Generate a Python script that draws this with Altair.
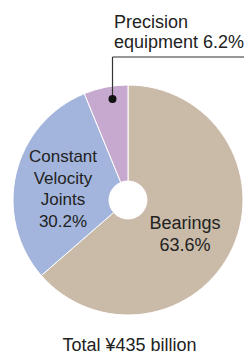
import altair as alt
import pandas as pd

categories = ["Bearings", "Constant Velocity Joints", "Precision equipment"]
shares = [63.6, 30.2, 6.2]
colors = ["#c9bba8", "#a3b5dc", "#c7a9d0"]
total_label = "Total ¥435 billion"

bearings_label = ["Bearings", f"{shares[0]}%"]
cvj_label = ["Constant", "Velocity", "Joints", f"{shares[1]}%"]
precision_label = ["Precision", f"equipment {shares[2]}%"]

df = pd.DataFrame({"category": categories, "share": shares})

FONT = "Liberation Sans"
TXT = "#222222"
W, H = 236, 348
CX, CY = 120, 192

base = alt.Chart(df)

pie = base.mark_arc(outerRadius=115, innerRadius=19, stroke="white", strokeWidth=1).encode(
    theta=alt.Theta("share:Q", stack=True),
    color=alt.Color("category:N", scale=alt.Scale(domain=categories, range=colors), legend=None),
    order=alt.Order("category:N", sort="ascending"),
    x=alt.value(CX),
    y=alt.value(CY),
)

one = alt.Chart(pd.DataFrame({"a": [0]}))

def label(lines, x, y, align="center", size=18, lh=22):
    return one.mark_text(
        font=FONT, fontSize=size, color=TXT, align=align, baseline="alphabetic", lineHeight=lh
    ).encode(x=alt.value(x), y=alt.value(y), text=alt.value(lines))

t_bear = label(bearings_label, 177, 220.5, lh=22.7)
t_cvj = label(cvj_label, 55, 153.7, size=17, lh=21.9)
t_prec = label(precision_label, 106, 20.3, align="left", lh=19.5)
t_total = label(total_label, 121.5, 342.5)

lead_v = one.mark_rule(color="#333333", strokeWidth=1.2).encode(
    x=alt.value(104.5), y=alt.value(91), y2=alt.value(49)
)
lead_h = one.mark_rule(color="#333333", strokeWidth=1.2).encode(
    x=alt.value(104.5), x2=alt.value(244), y=alt.value(49)
)
dot = one.mark_circle(color="#111111", opacity=1, size=64).encode(
    x=alt.value(104.5), y=alt.value(91)
)

chart = alt.layer(pie, lead_v, lead_h, dot, t_bear, t_cvj, t_prec, t_total).properties(
    width=W, height=H, autosize=alt.AutoSizeParams(type="none"), padding=0
).configure_view(stroke=None)

chart.save("out.html", embed_options={"renderer": "svg", "actions": False})
